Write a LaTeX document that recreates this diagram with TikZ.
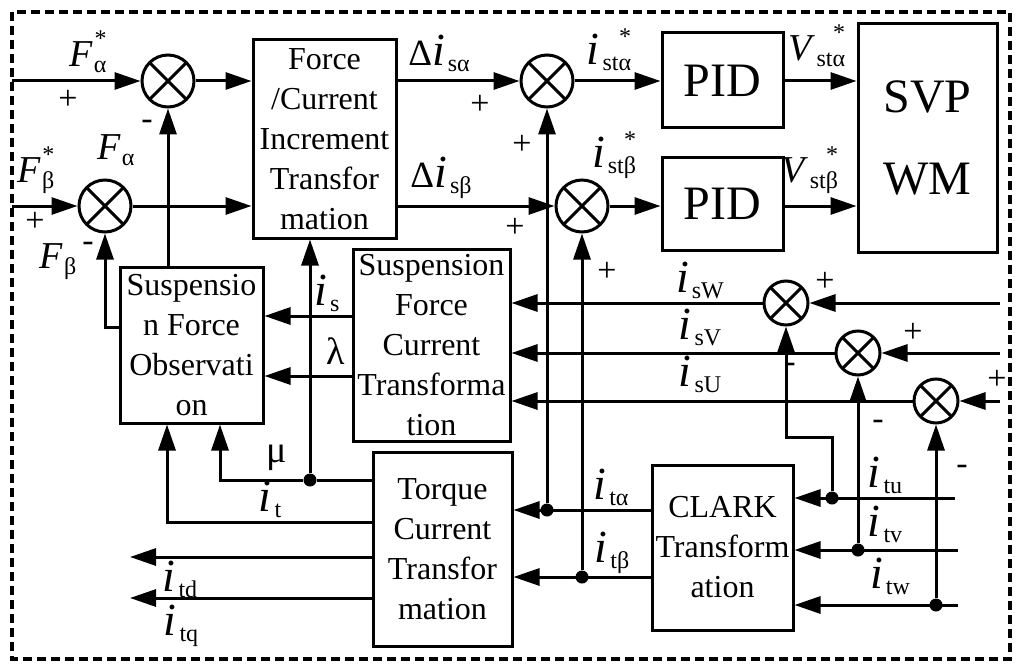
\documentclass[tikz,border=0pt]{standalone}
\usepackage{fontspec}
\setmainfont{Liberation Serif}
\usetikzlibrary{arrows.meta}

\newcommand{\subf}{\fontsize{24}{24}\selectfont}
\newcommand{\ii}{{\fontsize{46}{46}\selectfont\textit{i}}\kern2pt}
\newcommand{\dlt}{{\fontsize{37}{37}\selectfont Δ}}
\newcommand{\qsub}[2]{\textit{#1}\kern1pt\raisebox{-6pt}{\subf #2}}
\newcommand{\qref}[2]{\textit{#1}\kern1pt\setbox0=\hbox{\subf #2}\rlap{\raisebox{-6pt}{\copy0}}\hbox to \wd0{\hfill\raisebox{20pt}{\subf *}}}

\tikzset{
  blk/.style={draw, line width=3pt, align=center, inner sep=0pt, font=\fontsize{32}{40}\selectfont},
  big/.style={font=\fontsize{48}{82}\selectfont},
  sumc/.style={circle, draw, line width=3pt, minimum size=52pt, inner sep=0pt,
    path picture={\draw[line width=3pt]
      (path picture bounding box.north west) -- (path picture bounding box.south east)
      (path picture bounding box.north east) -- (path picture bounding box.south west);}},
  sumcs/.style={sumc, minimum size=44pt},
  jdot/.style={circle, fill, inner sep=0pt, minimum size=13pt},
  sig/.style={line width=3pt, -{Triangle[length=26pt,width=17pt]}},
  wire/.style={line width=3pt},
  lbl/.style={inner sep=0pt, font=\fontsize{38}{38}\selectfont},
  sgn/.style={inner sep=0pt, font=\fontsize{34}{34}\selectfont},
}

\begin{document}
\begin{tikzpicture}[x=1pt, y=-1pt]
    \useasboundingbox (0,0) rectangle (1024,671);
    \draw[line width=4pt, dash pattern=on 9pt off 5pt] (12,12) rectangle (1010,659);

    % blocks
    \node[blk, minimum width=143pt, minimum height=198pt] (fct) at (324.5,139) {Force\\/Current\\Increment\\Transfor\\mation};
    \node[blk, minimum width=143pt, minimum height=156pt] (obs) at (191.5,345) {Suspensio\\n Force\\Observati\\on};
    \node[blk, minimum width=157pt, minimum height=192pt] (sfct) at (431.5,345) {Suspension\\Force\\Current\\Transforma\\tion};
    \node[blk, minimum width=139pt, minimum height=194pt] (tct) at (442.5,549) {Torque\\Current\\Transfor\\mation};
    \node[blk, minimum width=141pt, minimum height=165pt] (clark) at (722.5,547.5) {CLARK\\Transform\\ation};
    \node[blk, big, minimum width=121pt, minimum height=95pt] (pid1) at (722.5,80.5) {PID};
    \node[blk, big, minimum width=121pt, minimum height=93pt] (pid2) at (722.5,204) {PID};
    \node[blk, big, minimum width=139pt, minimum height=228pt] (svpwm) at (927.5,138) {SVP\\WM};

    % summing points
    \node[sumc] (s1) at (168,81) {};
    \node[sumc] (s2) at (105,206) {};
    \node[sumc] (s3) at (547,81) {};
    \node[sumc] (s4) at (582,206) {};
    \node[sumcs] (s5) at (786,303) {};
    \node[sumcs] (s6) at (858,353) {};
    \node[sumcs] (s7) at (936,401) {};

    % free ends
    \coordinate (inA) at (12,81);
    \coordinate (inB) at (12,206);
    \coordinate (inW) at (1000,303);
    \coordinate (inV) at (1000,353);
    \coordinate (inU) at (1000,401);
    \coordinate (tu) at (955,498);
    \coordinate (tv) at (958,550);
    \coordinate (tw) at (958,605);
    \coordinate (outD) at (130,557);
    \coordinate (outQ) at (130,598);
    \coordinate (ta) at ([yshift=37.5pt]clark.west);
    \coordinate (tb) at ([yshift=-29.5pt]clark.west);

    % junctions
    \node[jdot] (dmu) at (310,480) {};
    \node[jdot] (da) at (ta -| s3) {};
    \node[jdot] (db) at (tb -| s4) {};
    \node[jdot] (du) at (832,498) {};
    \node[jdot] (dv) at (tv -| s6) {};
    \node[jdot] (dw) at (tw -| s7) {};

    % force loop
    \draw[sig] (inA) -- (s1);
    \draw[sig] (s1) -- (s1 -| fct.west);
    \draw[sig] (inB) -- (s2);
    \draw[sig] (s2) -- (s2 -| fct.west);
    \draw[sig] (obs.north -| s1) -- (s1);
    \draw[sig] ([yshift=18pt]obs.west) -| (s2);
    \draw[sig] (fct.east |- s3) -- (s3);
    \draw[sig] (fct.east |- s4) -- (s4);
    \draw[sig] (s3) -- (s3 -| pid1.west);
    \draw[sig] (s4) -- (s4 -| pid2.west);
    \draw[sig] (pid1.east |- s3) -- (s3 -| svpwm.west);
    \draw[sig] (pid2.east |- s4) -- (s4 -| svpwm.west);

    % phase currents
    \draw[sig] (inW) -- (s5);
    \draw[sig] (inV) -- (s6);
    \draw[sig] (inU) -- (s7);
    \draw[sig] (s5) -- (s5 -| sfct.east);
    \draw[sig] (s6) -- (s6 -| sfct.east);
    \draw[sig] (s7) -- (s7 -| sfct.east);
    \draw[sig] ([yshift=29pt]sfct.west) -- ([yshift=29pt]sfct.west -| obs.east);
    \draw[sig] ([yshift=-31pt]sfct.west) -- ([yshift=-31pt]sfct.west -| obs.east);

    % torque current outputs
    \draw[wire] (dmu -| tct.west) -- (dmu);
    \draw[sig] (dmu) -- (dmu |- fct.south);
    \draw[sig] (dmu) -| ([xshift=28.5pt]obs.south);
    \draw[sig] ([yshift=27pt]tct.west) -| ([xshift=-24.5pt]obs.south);
    \draw[sig] (outD -| tct.west) -- (outD);
    \draw[sig] (outQ -| tct.west) -- (outQ);

    % clark outputs and inputs
    \draw[sig] (ta) -- (ta -| tct.east);
    \draw[sig] (tb) -- (tb -| tct.east);
    \draw[sig] (da) -- (s3);
    \draw[sig] (db) -- (s4);
    \draw[sig] (tu) -- (tu -| clark.east);
    \draw[sig] (tv) -- (tv -| clark.east);
    \draw[sig] (tw) -- (tw -| clark.east);
    \draw[sig] (du) -- ++(0,-61) -| (s5);
    \draw[sig] (dv) -- (s6);
    \draw[sig] (dw) -- (s7);

    % labels
    \node[lbl] (lFa) at (88,52) {\qref{F}{α}};
    \node[lbl] (lFb) at (36,170) {\qref{F}{β}};
    \node[lbl] (lFa2) at (116,150) {\qsub{F}{α}};
    \node[lbl] (lFb2) at (58,262) {\qsub{F}{β}};
    \node[sgn] (pA) at (68,100) {+};
    \node[sgn] (mA) at (147,125) {-};
    \node[sgn] (pB) at (35,222) {+};
    \node[sgn] (mB) at (88,247) {-};
    \node[lbl] (lDa) at (439,53) {\dlt\qsub{\ii}{sα}};
    \node[lbl] (lDb) at (441,178) {\dlt\qsub{\ii}{sβ}};
    \node[sgn] (pC) at (480,105) {+};
    \node[sgn] (pD) at (522,145) {+};
    \node[sgn] (pE) at (515,228) {+};
    \node[sgn] (pF) at (607,272) {+};
    \node[lbl] (lista) at (609,50) {\qref{\ii}{stα}};
    \node[lbl] (listb) at (614,155) {\qref{\ii}{stβ}};
    \node[lbl] (lVa) at (817,46) {\qref{V}{stα}};
    \node[lbl] (lVb) at (810,170) {\qref{V}{stβ}};
    \node[lbl] (lis) at (327,293) {\qsub{\ii}{s}};
    \node[lbl] (llam) at (336,351) {λ};
    \node[lbl] (lmu) at (277,458) {μ};
    \node[lbl] (lit) at (270,499) {\qsub{\ii}{t}};
    \node[lbl] (litd) at (180,579) {\qsub{\ii}{td}};
    \node[lbl] (litq) at (181,626) {\qsub{\ii}{tq}};
    \node[lbl] (lita) at (611,487) {\qsub{\ii}{tα}};
    \node[lbl] (litb) at (612,553) {\qsub{\ii}{tβ}};
    \node[lbl] (lisW) at (700,280) {\qsub{\ii}{sW}};
    \node[lbl] (lisV) at (700,327) {\qsub{\ii}{sV}};
    \node[lbl] (lisU) at (700,374) {\qsub{\ii}{sU}};
    \node[sgn] (pW) at (825,282) {+};
    \node[sgn] (pV) at (913,333) {+};
    \node[sgn] (pU) at (997,380) {+};
    \node[sgn] (mW) at (790,368) {-};
    \node[sgn] (mV) at (878,425) {-};
    \node[sgn] (mU) at (962,470) {-};
    \node[lbl] (litu) at (885,475) {\qsub{\ii}{tu}};
    \node[lbl] (litv) at (885,524) {\qsub{\ii}{tv}};
    \node[lbl] (litw) at (890,576) {\qsub{\ii}{tw}};
\end{tikzpicture}
\end{document}
